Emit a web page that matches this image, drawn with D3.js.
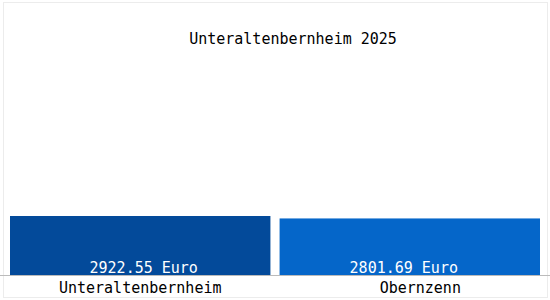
<!DOCTYPE html>
<html>
<head>
<meta charset="utf-8">
<script src="https://cdn.jsdelivr.net/npm/d3@7"></script>
<style>
  body { margin: 0; background: #fff; }
  text { font-family: "DejaVu Sans Mono", monospace; font-size: 15px; }
</style>
</head>
<body>
<div id="chart"></div>
<script>
// data
var places = ["Unteraltenbernheim", "Obernzenn"];
var values = [2922.55, 2801.69];
var barColors = ["#034a9a", "#0566c9"];
var title = "Unteraltenbernheim 2025";

var w = 550, h = 300;
var baseY = 275;

var svg = d3.select("#chart")
    .append("svg")
    .attr("width", w)
    .attr("height", h);

// faint frame
svg.append("rect")
    .attr("x", 3.5).attr("y", 2.5)
    .attr("width", w - 6).attr("height", h - 5)
    .style("fill", "none")
    .style("stroke", "#ececec");

var x = d3.scaleBand()
    .domain(places)
    .range([10, 540])
    .paddingInner(0.034)
    .paddingOuter(0);

var y = d3.scaleLinear()
    .domain([0, 10650])
    .range([baseY, 60]);

svg.selectAll(".bar")
    .data(values)
    .enter()
    .append("rect")
    .attr("class", "bar")
    .attr("x", function (d, i) { return x(places[i]); })
    .attr("y", function (d) { return y(d); })
    .attr("width", x.bandwidth())
    .attr("height", function (d) { return baseY - y(d); })
    .style("fill", function (d, i) { return barColors[i]; });

// baseline
svg.append("line")
    .attr("x1", 0).attr("x2", w)
    .attr("y1", baseY + 0.5).attr("y2", baseY + 0.5)
    .style("stroke", "#bbbbbb")
    .style("stroke-width", "1px");

// value labels
svg.selectAll(".val")
    .data(values)
    .enter()
    .append("text")
    .attr("class", "val")
    .attr("x", function (d, i) { return x(places[i]) + x.bandwidth() / 2 + (i == 0 ? 3.5 : -6); })
    .attr("y", 273)
    .attr("text-anchor", "middle")
    .style("fill", "#ffffff")
    .text(function (d) { return d.toFixed(2) + " Euro"; });

// category labels
svg.selectAll(".cat")
    .data(places)
    .enter()
    .append("text")
    .attr("class", "cat")
    .attr("x", function (d, i) { return x(d) + x.bandwidth() / 2 + (i == 0 ? 0 : 10.5); })
    .attr("y", 293)
    .attr("text-anchor", "middle")
    .style("fill", "#000")
    .text(function (d) { return d; });

svg.append("text")
    .attr("x", 293)
    .attr("y", 44)
    .attr("text-anchor", "middle")
    .style("fill", "#000")
    .text(title);
</script>
</body>
</html>
